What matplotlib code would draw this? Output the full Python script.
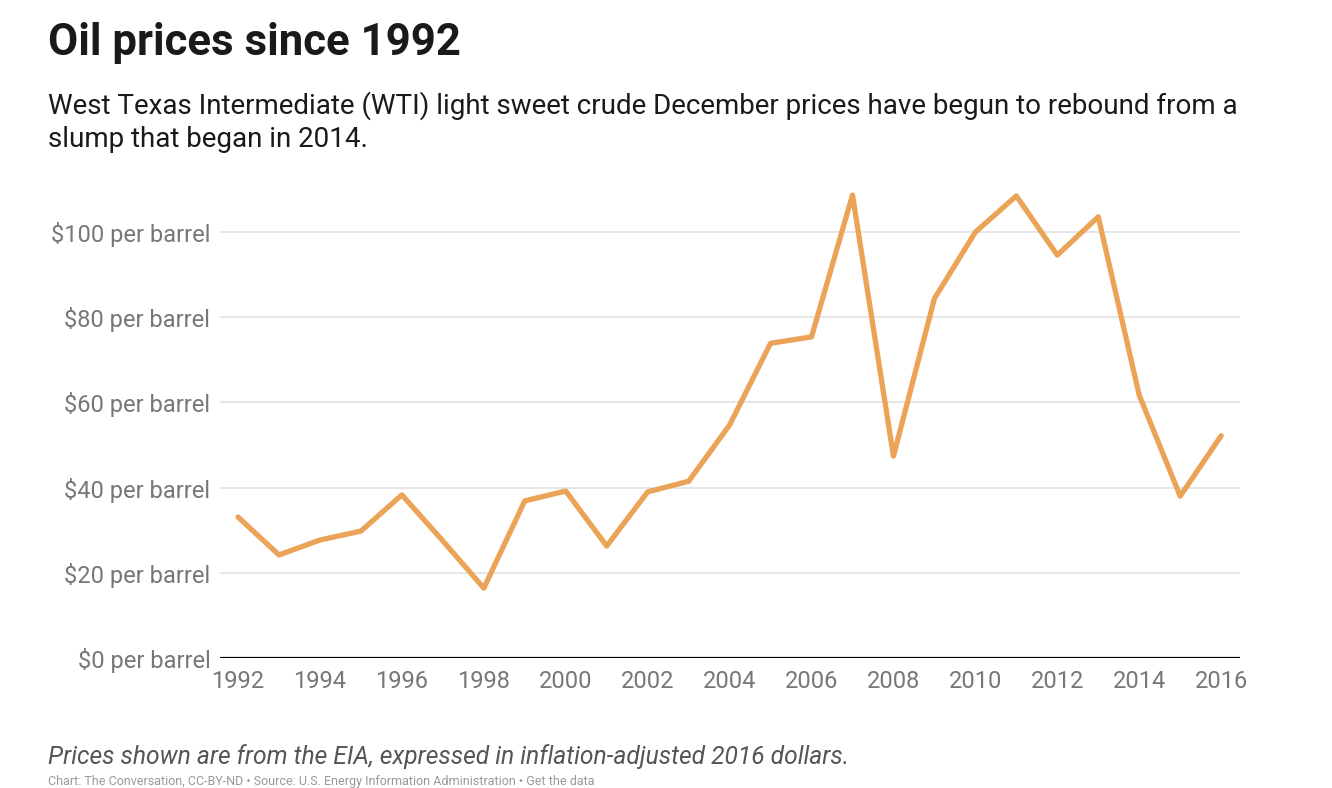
import matplotlib
matplotlib.use("Agg")
import matplotlib.pyplot as plt

plt.rcParams['font.family'] = ['Roboto', 'DejaVu Sans']

years = list(range(1992, 2017))
prices = [33.1, 24.2, 27.7, 29.8, 38.3, 27.5, 16.4, 36.9, 39.2, 26.3, 39.0, 41.5,
          54.7, 73.9, 75.4, 108.7, 47.4, 84.4, 100.0, 108.5, 94.6, 103.6, 61.7,
          38.0, 52.2]
ytick_vals = [0, 20, 40, 60, 80, 100]
ytick_labels = [f"${v} per barrel" for v in ytick_vals]
xtick_vals = list(range(1992, 2017, 2))

title = "Oil prices since 1992"
subtitle = ("West Texas Intermediate (WTI) light sweet crude December prices have begun to rebound from a\n"
            "slump that began in 2014.")
note = "Prices shown are from the EIA, expressed in inflation-adjusted 2016 dollars."

W, H = 1332, 788
fig = plt.figure(figsize=(W / 100, H / 100), dpi=100)
fig.patch.set_facecolor('white')

ax = fig.add_axes([220 / W, 1 - 658 / H, (1240 - 220) / W, (658 - 181) / H])
ax.plot(years, prices, color='#eba358', lw=3.8, solid_joinstyle='round',
        solid_capstyle='round', zorder=3)

ax.set_xlim(1991.56, 2016.46)
ax.set_ylim(0, 112)
ax.set_yticks(ytick_vals)
ax.set_yticklabels(ytick_labels)
ax.set_xticks(xtick_vals)
ax.set_xticklabels([str(v) for v in xtick_vals])

for v in ytick_vals[1:]:
    ax.axhline(v, color='#e2e2e2', lw=1.2, zorder=1)
ax.axhline(0, color='black', lw=1.6, zorder=2)

for s in ax.spines.values():
    s.set_visible(False)
ax.tick_params(axis='both', length=0, labelsize=17, labelcolor='#777777')
ax.tick_params(axis='y', pad=7)
ax.tick_params(axis='x', pad=9)

fig.text(48 / W, 1 - 43 / H, title, fontsize=31.5, fontweight='bold', color='#1a1a1a',
         va='center', ha='left')
fig.text(48 / W, 1 - 122 / H, subtitle, fontsize=20, color='#1a1a1a', va='center', ha='left',
         linespacing=1.25)
fig.text(48 / W, 1 - 757 / H, note, fontsize=17.7, style='italic', color='#555555',
         va='center', ha='left')
fig.text(48 / W, 1 - 781 / H,
         "Chart: The Conversation, CC-BY-ND \u2022 Source: U.S. Energy Information Administration \u2022 Get the data",
         fontsize=9, color='#999999', va='center', ha='left')

fig.savefig('out.png', dpi=100, facecolor='white')
